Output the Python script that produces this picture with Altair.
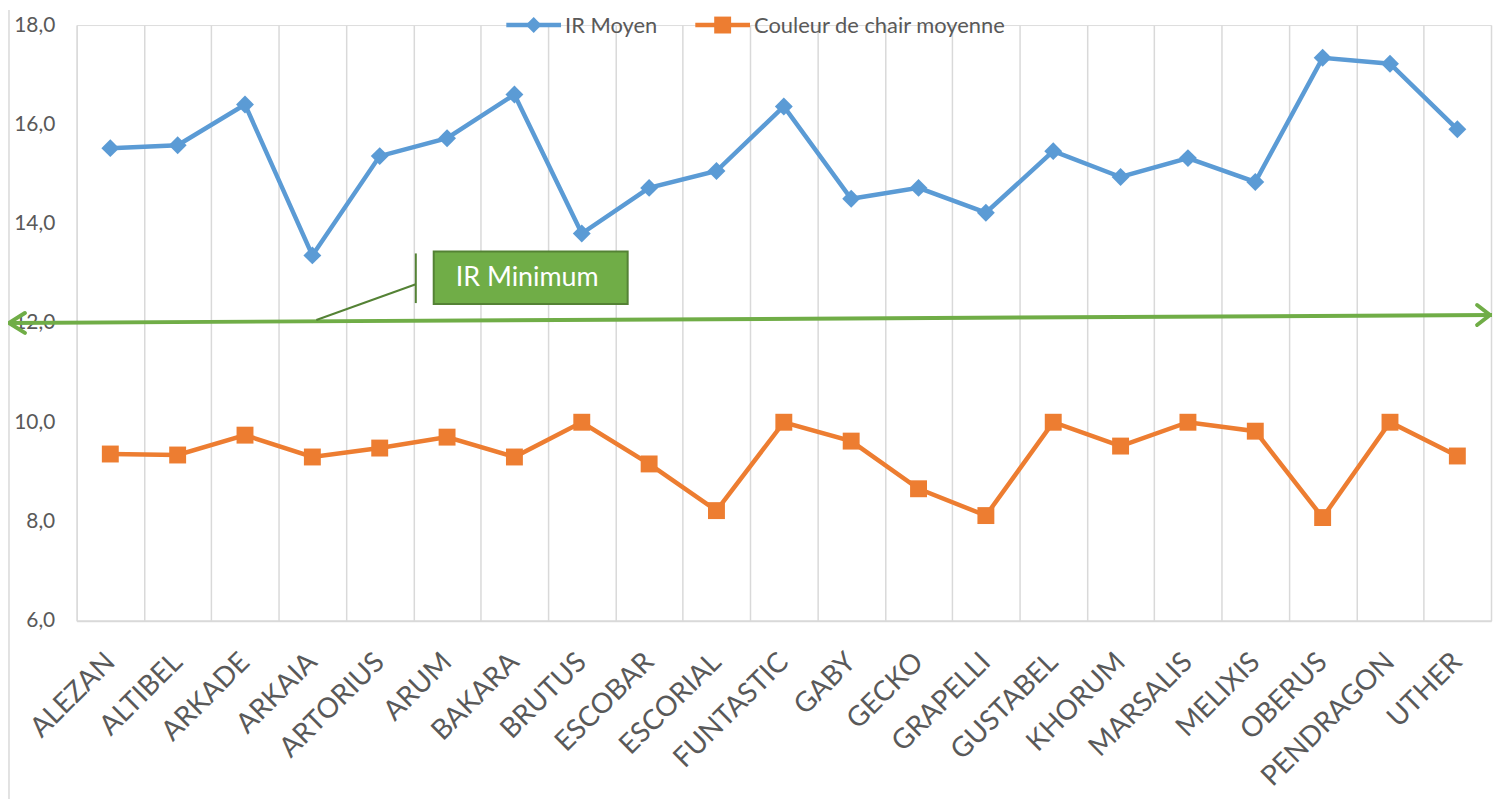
import altair as alt
import pandas as pd

varieties = ["ALEZAN", "ALTIBEL", "ARKADE", "ARKAIA", "ARTORIUS", "ARUM", "BAKARA",
             "BRUTUS", "ESCOBAR", "ESCORIAL", "FUNTASTIC", "GABY", "GECKO", "GRAPELLI",
             "GUSTABEL", "KHORUM", "MARSALIS", "MELIXIS", "OBERUS", "PENDRAGON", "UTHER"]
ir_moyen = [15.52, 15.58, 16.40, 13.36, 15.36, 15.72, 16.60, 13.80, 14.72, 15.06, 16.36,
            14.50, 14.72, 14.22, 15.46, 14.94, 15.32, 14.84, 17.34, 17.22, 15.90]
couleur = [9.36, 9.34, 9.74, 9.30, 9.48, 9.70, 9.30, 10.00, 9.16, 8.22, 10.00,
           9.62, 8.66, 8.12, 10.00, 9.52, 10.00, 9.82, 8.08, 10.00, 9.32]
series_names = ["IR Moyen", "Couleur de chair moyenne"]
series_colors = ["#5B9BD5", "#ED7D31"]
series_shapes = ["diamond", "square"]
y_ticks = [6, 8, 10, 12, 14, 16, 18]
ir_minimum_label = "IR Minimum"
arrow_values = [12.0, 12.16]   # IR minimum arrow (left end, right end)

rows = []
for v, a, b in zip(varieties, ir_moyen, couleur):
    rows.append({"variete": v, "serie": series_names[0], "valeur": a})
    rows.append({"variete": v, "serie": series_names[1], "valeur": b})
df = pd.DataFrame(rows)

W, H = 1422, 599
FONT = "Lato"
TXT = "#595959"
GREEN = "#70AD47"
DGREEN = "#548235"
YSCALE = alt.Scale(domain=[6, 18], nice=False, zero=False)

x_enc = alt.X("variete:N", sort=varieties, title=None,
              scale=alt.Scale(type="band", paddingInner=0, paddingOuter=0),
              axis=alt.Axis(labelAngle=-45, labelAlign="right", labelBaseline="middle",
                            labelFontSize=28, labelFont=FONT,
                            labelColor=TXT, labelLimit=0,
                            labelPadding=37, ticks=False, tickBand="extent",
                            grid=True, gridColor="#D9D9D9", gridWidth=1.5,
                            domain=True, domainColor="#D9D9D9", domainWidth=2))
y_enc = alt.Y("valeur:Q", title=None, scale=YSCALE,
              axis=alt.Axis(values=y_ticks, grid=False, ticks=False, domain=False,
                            labelExpr="replace(format(datum.value, '.1f'), '.', ',')",
                            labelFontSize=21, labelFont=FONT, labelColor=TXT,
                            labelPadding=22))
color_enc = alt.Color("serie:N", scale=alt.Scale(domain=series_names, range=series_colors),
                      legend=None)

base = alt.Chart(df)

lines = base.mark_line(strokeWidth=4.5).encode(
    x=x_enc, y=y_enc, color=color_enc, detail="serie:N")

pts_ir = base.transform_filter(alt.datum.serie == series_names[0]).mark_point(
    shape=series_shapes[0], filled=True, size=324, opacity=1).encode(
    x=x_enc, y=y_enc, color=color_enc)
pts_cc = base.transform_filter(alt.datum.serie == series_names[1]).mark_point(
    shape=series_shapes[1], filled=True, size=289, opacity=1).encode(
    x=x_enc, y=y_enc, color=color_enc)

# Legend (top, drawn as marks): line segment + marker + label per series
legend_layers = []
legend_x = [432, 622]      # left end of each legend line, in plot pixels
for i, name in enumerate(series_names):
    ldf = pd.DataFrame({"label": [name]})
    x0 = legend_x[i]
    legend_layers.append(alt.Chart(ldf).mark_rule(color=series_colors[i], strokeWidth=4.5).encode(
        x=alt.value(x0), x2=alt.value(x0 + 55), y=alt.value(0)))
    legend_layers.append(alt.Chart(ldf).mark_point(
        shape=series_shapes[i], filled=True, opacity=1, color=series_colors[i],
        size=256 if i == 0 else 289).encode(x=alt.value(x0 + 27.5), y=alt.value(0)))
    legend_layers.append(alt.Chart(ldf).mark_text(
        font=FONT, fontSize=22, color=TXT, align="left", baseline="middle").encode(
        x=alt.value(x0 + 59), y=alt.value(1), text="label:N"))

# IR minimum arrow (double headed)
arrow_df = pd.DataFrame({"y1": [arrow_values[0]], "y2": [arrow_values[1]]})
arrow = alt.Chart(arrow_df).mark_rule(color=GREEN, strokeWidth=4).encode(
    x=alt.value(-68), x2=alt.value(1423),
    y=alt.Y("y1:Q", scale=YSCALE), y2="y2:Q")
head_l = alt.Chart(arrow_df).mark_point(
    shape="M 1.23 -0.77 L 0 0 L 1.23 0.77", filled=False, size=676, color=GREEN,
    strokeWidth=4, strokeCap="round", strokeJoin="round", opacity=1).encode(
    x=alt.value(-68), y=alt.Y("y1:Q", scale=YSCALE))
head_r = alt.Chart(arrow_df).mark_point(
    shape="M -1.0 -0.77 L 0 0 L -1.0 0.77", filled=False, size=676, color=GREEN,
    strokeWidth=4, strokeCap="round", strokeJoin="round", opacity=1).encode(
    x=alt.value(1421), y=alt.Y("y2:Q", scale=YSCALE))

# Callout "IR Minimum"
callout_df = pd.DataFrame({"ya": [12.06], "yb": [12.78], "yt": [13.40], "yl": [12.40],
                           "box_top": [13.44], "box_bot": [12.38], "ymid": [12.91],
                           "label": [ir_minimum_label]})
leader = alt.Chart(callout_df).mark_rule(color=DGREEN, strokeWidth=2).encode(
    x=alt.value(241), x2=alt.value(341), y=alt.Y("ya:Q", scale=YSCALE), y2="yb:Q")
bar = alt.Chart(callout_df).mark_rule(color=DGREEN, strokeWidth=2).encode(
    x=alt.value(341), y=alt.Y("yt:Q", scale=YSCALE), y2="yl:Q")
box = alt.Chart(callout_df).mark_rect(fill=GREEN, stroke=DGREEN, strokeWidth=2).encode(
    x=alt.value(359), x2=alt.value(554), y=alt.Y("box_top:Q", scale=YSCALE), y2="box_bot:Q")
box_text = alt.Chart(callout_df).mark_text(color="white", font=FONT, fontSize=27,
                                           align="center", baseline="middle").encode(
    x=alt.value(453), y=alt.Y("ymid:Q", scale=YSCALE), text="label:N")

# chart area left border
frame = alt.Chart(callout_df).mark_rule(color="#D9D9D9", strokeWidth=1.5).encode(
    x=alt.value(-68), y=alt.value(-15), y2=alt.value(H + 179))

chart = alt.layer(frame, lines, pts_ir, pts_cc, *legend_layers, arrow, head_l, head_r,
                  leader, bar, box, box_text).properties(
    width=W, height=H,
    padding={"left": 69, "top": 15, "right": 4, "bottom": 179},
    autosize=alt.AutoSizeParams(type="none"),
).configure_view(stroke=None).configure(background="white")

chart.save("out.html", embed_options={"renderer": "svg", "actions": False})
